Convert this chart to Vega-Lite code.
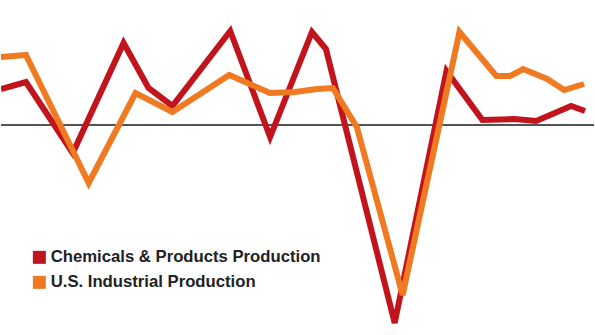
{
  "$schema": "https://vega.github.io/schema/vega-lite/v6.json",
  "width": 595,
  "height": 335,
  "padding": 0,
  "autosize": {"type": "fit", "contains": "padding"},
  "background": "white",
  "config": {"view": {"stroke": null}},
  "datasets": {
    "series": [
      {"series": "Chemicals & Products Production", "t": 0, "v": 3.6},
      {"series": "Chemicals & Products Production", "t": 25, "v": 4.3},
      {"series": "Chemicals & Products Production", "t": 72, "v": -2.8},
      {"series": "Chemicals & Products Production", "t": 123, "v": 8.2},
      {"series": "Chemicals & Products Production", "t": 148, "v": 3.7},
      {"series": "Chemicals & Products Production", "t": 172, "v": 1.9},
      {"series": "Chemicals & Products Production", "t": 230, "v": 9.4},
      {"series": "Chemicals & Products Production", "t": 270, "v": -1.2},
      {"series": "Chemicals & Products Production", "t": 312, "v": 9.3},
      {"series": "Chemicals & Products Production", "t": 326, "v": 7.6},
      {"series": "Chemicals & Products Production", "t": 395, "v": -19.8},
      {"series": "Chemicals & Products Production", "t": 447, "v": 5.4},
      {"series": "Chemicals & Products Production", "t": 483, "v": 0.5},
      {"series": "Chemicals & Products Production", "t": 515, "v": 0.6},
      {"series": "Chemicals & Products Production", "t": 537, "v": 0.4},
      {"series": "Chemicals & Products Production", "t": 572, "v": 1.9},
      {"series": "Chemicals & Products Production", "t": 586, "v": 1.4},
      {"series": "U.S. Industrial Production", "t": 0, "v": 6.8},
      {"series": "U.S. Industrial Production", "t": 25, "v": 7.0},
      {"series": "U.S. Industrial Production", "t": 88, "v": -5.8},
      {"series": "U.S. Industrial Production", "t": 135, "v": 3.2},
      {"series": "U.S. Industrial Production", "t": 172, "v": 1.3},
      {"series": "U.S. Industrial Production", "t": 229, "v": 5.0},
      {"series": "U.S. Industrial Production", "t": 270, "v": 3.2},
      {"series": "U.S. Industrial Production", "t": 295, "v": 3.3},
      {"series": "U.S. Industrial Production", "t": 317, "v": 3.6},
      {"series": "U.S. Industrial Production", "t": 333, "v": 3.7},
      {"series": "U.S. Industrial Production", "t": 357, "v": -0.2},
      {"series": "U.S. Industrial Production", "t": 403, "v": -17.0},
      {"series": "U.S. Industrial Production", "t": 460, "v": 9.3},
      {"series": "U.S. Industrial Production", "t": 497, "v": 4.9},
      {"series": "U.S. Industrial Production", "t": 511, "v": 4.9},
      {"series": "U.S. Industrial Production", "t": 524, "v": 5.6},
      {"series": "U.S. Industrial Production", "t": 548, "v": 4.6},
      {"series": "U.S. Industrial Production", "t": 565, "v": 3.5},
      {"series": "U.S. Industrial Production", "t": 585, "v": 4.1}
    ],
    "zero": [{"v": 0}]
  },
  "layer": [
    {
      "data": {"name": "zero"},
      "mark": {"type": "rule", "color": "#1a1a1a", "strokeWidth": 1.3},
      "encoding": {
        "y": {"field": "v", "type": "quantitative", "scale": {"domain": [-21, 12.5], "nice": false, "zero": false}, "axis": null}
      }
    },
    {
      "data": {"name": "series"},
      "mark": {"type": "line", "strokeWidth": 6, "strokeJoin": "miter", "strokeCap": "butt", "clip": true},
      "encoding": {
        "x": {"field": "t", "type": "quantitative", "scale": {"domain": [0, 595], "nice": false, "zero": false}, "axis": null},
        "y": {"field": "v", "type": "quantitative", "scale": {"domain": [-21, 12.5], "nice": false, "zero": false}, "axis": null},
        "color": {
          "field": "series",
          "type": "nominal",
          "scale": {"domain": ["Chemicals & Products Production", "U.S. Industrial Production"], "range": ["#C1141C", "#F07A22"]},
          "legend": {
            "title": null,
            "orient": "none",
            "legendX": 30,
            "legendY": 249,
            "symbolType": "square",
            "symbolSize": 42,
            "symbolStrokeWidth": 6.5,
            "symbolOpacity": 1,
            "labelFont": "Liberation Sans",
            "labelFontSize": 16.7,
            "labelFontWeight": "bold",
            "labelColor": "#222222",
            "labelOffset": 3,
            "labelLimit": 400,
            "rowPadding": -10
          }
        }
      }
    }
  ]
}
